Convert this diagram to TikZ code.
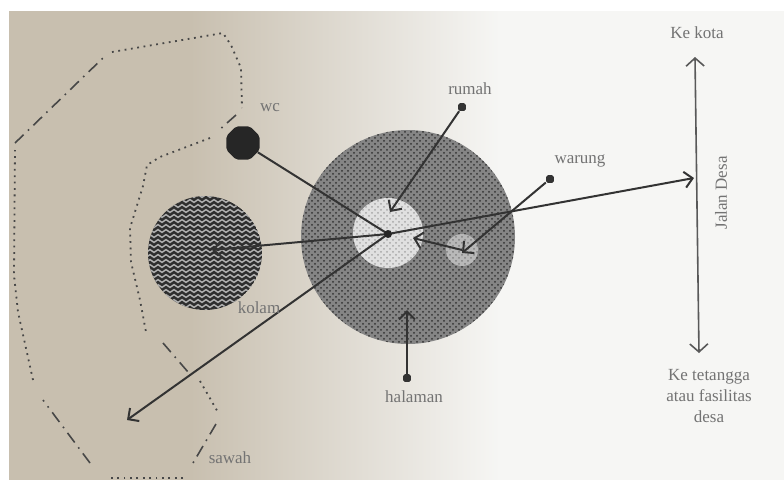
\documentclass[tikz,border=0pt]{standalone}
\usepackage{fontspec}
\setmainfont{Liberation Serif}
\usetikzlibrary{arrows.meta,shapes,patterns,positioning}

\definecolor{kertas}{RGB}{200,191,175}
\definecolor{putih}{RGB}{246,246,244}

\tikzset{
  lbl/.style={text=black!55,font=\fontsize{8.5}{10.5}\selectfont,inner sep=1pt},
  conn/.style={draw=black!80,line width=1pt},
  bdot/.style={draw=black!72,line width=0.9pt,dash pattern=on 0.9pt off 2.3pt},
  bdash/.style={draw=black!72,line width=0.8pt,dash pattern=on 6pt off 3pt on 0.8pt off 3pt},
  marker/.style={fill=black!80,rounded corners=0.8pt,minimum size=3.8pt,inner sep=0pt}
}

\begin{document}
\begin{tikzpicture}[x=0.5pt,y=-0.5pt,>={Straight Barb[length=4pt,width=8pt]}]
\useasboundingbox (0,0) rectangle (784,483);
% kertas
\fill[putih] (0,0) rectangle (784,483);
\fill[kertas] (0,0) rectangle (194,483);
\shade[left color=kertas,middle color={rgb,255:red,226;green,221;blue,211},right color=putih]
  (190,0) rectangle (500,483);
\fill[white] (0,0) rectangle (784,11);
\fill[white] (0,480) rectangle (784,483);
\fill[white] (0,0) rectangle (9,483);

% batas sawah
\draw[bdash] (15,143) -- (104,57);
\draw[bdot] (112,52) -- (223,33) -- (231,45) -- (241,68) -- (242,108);
\draw[bdash] (236,115) -- (218,131);
\draw[bdot] (210,138) -- (160,157) -- (147,165) -- (143,186) -- (130,228)
  -- (131,262) -- (140,300) -- (146,332);
\draw[bdash] (163,343) -- (188,372);
\draw[bdot] (200,381) -- (219,414);
\draw[bdash] (216,424) -- (193,463);
\draw[bdot] (183,478) -- (108,478);
\draw[bdash] (90,463) -- (43,400);
\draw[bdot] (33,380) -- (18,312) -- (14,275) -- (15,150);

% pekarangan
\node[circle,minimum size=107pt,inner sep=0pt,preaction={fill=black!48},
  pattern=crosshatch dots,pattern color=black!80] (halamanC) at (408,237) {};
\node[circle,minimum size=35pt,inner sep=0pt,preaction={fill=black!12},
  pattern=crosshatch dots,pattern color=black!35] (rumahC) at (388,233) {};
\node[circle,minimum size=16pt,inner sep=0pt,preaction={fill=black!28},
  pattern=crosshatch dots,pattern color=black!50] (warungC) at (462,250) {};

% kolam
\begin{scope}
\clip (205,253) circle (57);
\fill[black!82] (205,253) circle (57);
\foreach \y in {196,201,...,312}
  \draw[black!30,line width=0.7pt] plot[domain=146:264,samples=60] (\x,{\y+1.4*sin(\x*45)});
\end{scope}
\coordinate (kolam) at (205,253);
\node[regular polygon,regular polygon sides=8,minimum size=18pt,inner sep=0pt,
  fill=black!85,rounded corners=1pt] (wc) at (243,143) {};

% titik dan ujung panah
\coordinate (hub) at (388,234);
\coordinate (kolamTip) at (212,250);
\coordinate (sawahTip) at (127,420);
\coordinate (jalanTip) at (694,178);
\coordinate (rumahTip) at (390,212);
\coordinate (warungTip) at (462,253);
\coordinate (hubTip) at (413,238);
\coordinate (halamanTip) at (407,310);
\coordinate (kota) at (695,57);
\coordinate (tetangga) at (699,353);

\node[marker] (rumahM) at (462,107) {};
\node[marker] (warungM) at (550,179) {};
\node[marker] (halamanM) at (407,378) {};

% jalan desa
\draw[black!65,line width=0.8pt,{Straight Barb[length=4pt,width=9pt]}-{Straight Barb[length=4pt,width=9pt]}] (kota) -- (tetangga);

% hubungan
\draw[conn] (wc) -- (hub);
\draw[conn,->] (hub) -- (kolamTip);
\draw[conn,->] (hub) -- (sawahTip);
\draw[conn,->] (hub) -- (jalanTip);
\draw[conn,->] (rumahM) -- (rumahTip);
\draw[conn,->] (warungM) -- (warungTip);
\draw[conn,->] (warungC.center) -- (hubTip);
\draw[conn,->] (halamanM) -- (halamanTip);
\fill[black!85] (hub) circle (4);

% label
\node[lbl] (wcL) at (270,108) {wc};
\node[lbl] (rumahL) at (470,89) {rumah};
\node[lbl] (warungL) at (580,161) {warung};
\node[lbl] (kolamL) at (259,308) {kolam};
\node[lbl] (halamanL) at (414,397) {halaman};
\node[lbl] (sawahL) at (230,458) {sawah};
\node[lbl] (kotaL) at (697,33) {Ke kota};
\node[lbl,align=center] (tetanggaL) at (709,396) {Ke tetangga\\atau fasilitas\\desa};
\node[lbl,rotate=90] (jalanL) at (721,193) {Jalan Desa};
\end{tikzpicture}
\end{document}
